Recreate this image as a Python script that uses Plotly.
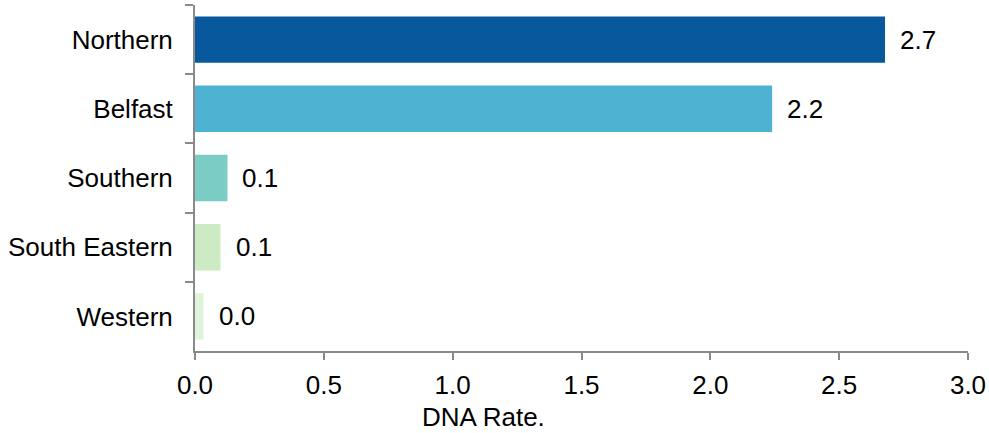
import plotly.graph_objects as go

regions = ["Northern", "Belfast", "Southern", "South Eastern", "Western"]
dna_rate = [2.678, 2.24, 0.126, 0.099, 0.033]
bar_colors = ["#08589e", "#4eb3d3", "#7bccc4", "#ccebc5", "#e0f3db"]
x_ticks = [0.0, 0.5, 1.0, 1.5, 2.0, 2.5, 3.0]

fig = go.Figure()
fig.add_trace(go.Bar(
    y=regions, x=dna_rate, orientation="h",
    marker=dict(color=bar_colors, line=dict(width=0)),
    hoverinfo="x+y",
))

for r, v in zip(regions, dna_rate):
    fig.add_annotation(x=v, y=r, text=f"{v:.1f}", showarrow=False,
                       xanchor="left", xshift=13,
                       font=dict(size=26, color="#000000"))

fig.add_annotation(x=0.373, y=-0.19, xref="paper", yref="paper", yanchor="middle",
                   text="DNA Rate.", showarrow=False,
                   font=dict(size=26, color="#000000"))

axis_gray = "#8a8a8a"
fig.update_layout(
    width=989, height=433,
    margin=dict(l=195, r=21, t=5, b=82),
    paper_bgcolor="white", plot_bgcolor="white",
    font=dict(family="Liberation Sans, Arial, sans-serif", size=26, color="#000000"),
    bargap=0.33,
    showlegend=False,
    xaxis=dict(range=[0, 3], tickvals=x_ticks, ticktext=[f"{t:.1f}" for t in x_ticks],
               automargin=False,
               showgrid=False, zeroline=False, showline=True, linecolor=axis_gray,
               linewidth=2, ticks="outside", ticklen=7, tickwidth=2, tickcolor=axis_gray,
               tickfont=dict(size=26), ticklabelstandoff=3),
    yaxis=dict(categoryorder="array", categoryarray=regions, autorange="reversed",
               automargin=False,
               showgrid=False, zeroline=False, showline=True, linecolor=axis_gray,
               linewidth=2, ticks="outside", tickson="boundaries", ticklen=8,
               tickwidth=2, tickcolor=axis_gray, tickfont=dict(size=26),
               ticklabelstandoff=15),
)

fig.write_html("out.html",
               config={"displayModeBar": False},
               post_script="document.body.style.margin='0';document.body.style.overflow='hidden';")
